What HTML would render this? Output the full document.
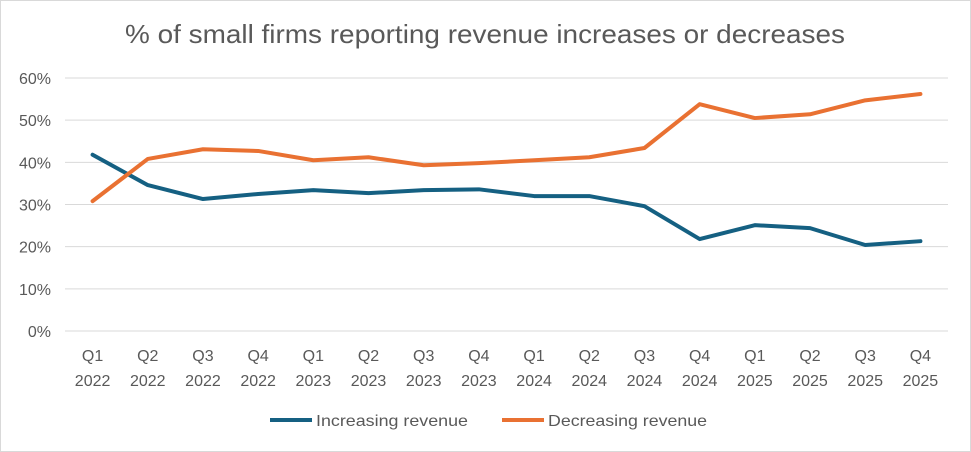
<!DOCTYPE html>
<html><head><meta charset="utf-8"><style>
html,body{margin:0;padding:0;background:#fff;}
svg{display:block;font-family:"Liberation Sans",sans-serif;}
</style></head><body>
<svg width="971" height="452" viewBox="0 0 971 452">
<rect x="0.5" y="0.5" width="970" height="451" fill="#fff" stroke="#d9d9d9"/>
<text x="125" y="43" font-size="26" fill="#595959" textLength="720" lengthAdjust="spacingAndGlyphs">% of small firms reporting revenue increases or decreases</text>
<g id="grid"></g>
<g id="yticks"></g>
<g id="xticks"></g>
<g id="series"></g>
<g>
<line x1="270" y1="420" x2="312" y2="420" stroke="#156082" stroke-width="4"/>
<text x="316" y="426" font-size="16" fill="#595959" textLength="152" lengthAdjust="spacingAndGlyphs">Increasing revenue</text>
<line x1="502" y1="420" x2="544" y2="420" stroke="#E97132" stroke-width="4"/>
<text x="548" y="426" font-size="16" fill="#595959" textLength="159" lengthAdjust="spacingAndGlyphs">Decreasing revenue</text>
</g>
</svg>
<script>
const quarters=["Q1","Q2","Q3","Q4","Q1","Q2","Q3","Q4","Q1","Q2","Q3","Q4","Q1","Q2","Q3","Q4"];
const years=["2022","2022","2022","2022","2023","2023","2023","2023","2024","2024","2024","2024","2025","2025","2025","2025"];
const increasing=[41.8,34.6,31.3,32.5,33.4,32.7,33.4,33.6,32.0,32.0,29.6,21.8,25.1,24.4,20.4,21.3];
const decreasing=[30.8,40.8,43.1,42.7,40.5,41.2,39.3,39.8,40.5,41.2,43.4,53.8,50.5,51.4,54.7,56.2];
const yTicks=[0,10,20,30,40,50,60];
const NS="http://www.w3.org/2000/svg";
const x0=65,x1=948,yBase=331,yTop=78,yMax=60;
const step=(x1-x0)/quarters.length;
const xs=i=>x0+step*(i+0.5);
const ys=v=>yBase-(v/yMax)*(yBase-yTop);
function mk(tag,attrs,parent,text){const e=document.createElementNS(NS,tag);for(const k in attrs)e.setAttribute(k,attrs[k]);if(text!==undefined)e.textContent=text;parent.appendChild(e);return e;}
const grid=document.getElementById('grid'),yt=document.getElementById('yticks'),xt=document.getElementById('xticks'),ser=document.getElementById('series');
yTicks.forEach(t=>{
  const l=mk('line',{x1:x0,x2:x1,y1:ys(t),y2:ys(t),stroke:'#d9d9d9','stroke-width':1},grid);
  
  
  const tx=mk('text',{x:51,y:ys(t)+6,'text-anchor':'end','font-size':16,fill:'#595959'},yt,t+'%');
  
  
});
quarters.forEach((q,i)=>{
  const t=mk('text',{x:xs(i),y:361,'text-anchor':'middle','font-size':16,fill:'#595959'},xt,q);
  
  
  const t2=mk('text',{x:xs(i),y:386,'text-anchor':'middle','font-size':16,fill:'#595959'},xt,years[i]);
  
  
});
function line(vals,color,name){
  const p=mk('polyline',{points:vals.map((v,i)=>xs(i)+','+ys(v)).join(' '),fill:'none',stroke:color,'stroke-width':4,'stroke-linejoin':'round','stroke-linecap':'round'},ser);
  
  
}
line(increasing,'#156082','increasing-revenue-line');
line(decreasing,'#E97132','decreasing-revenue-line');
</script>
</body></html>
